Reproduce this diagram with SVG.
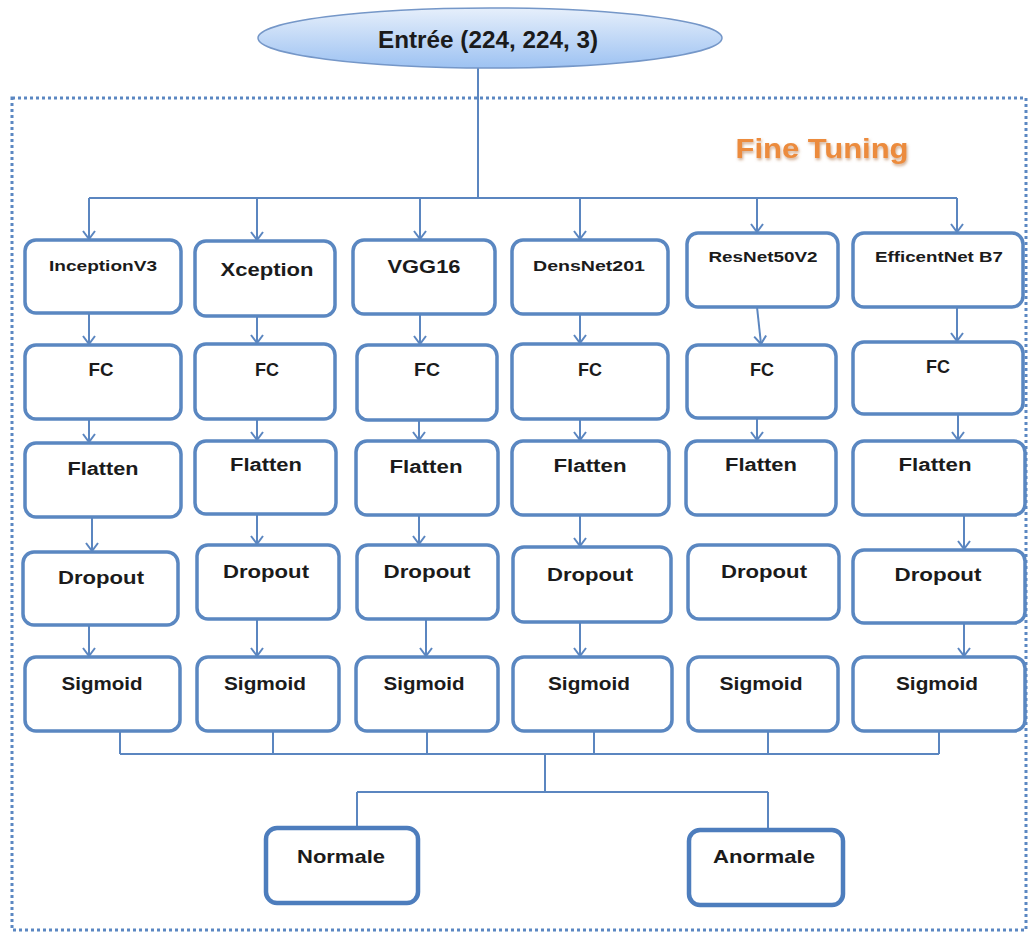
<svg xmlns="http://www.w3.org/2000/svg" width="1029" height="932" viewBox="0 0 1029 932">
<style>
.box{fill:#fff;stroke:#5a87c1;stroke-width:3.5}
.out{fill:#fff;stroke:#4d7dbd;stroke-width:4.5}
.lbl{font-family:"Liberation Sans",Arial,sans-serif;font-weight:bold;fill:#1b1b1b;text-anchor:middle;dominant-baseline:central}
.ln{fill:none;stroke:#5b86c0;stroke-width:2}
.arr{fill:none;stroke:#5b86c0;stroke-width:2;marker-end:url(#ah)}
</style>
<defs>
<linearGradient id="eg" x1="0" y1="0" x2="0" y2="1">
<stop offset="0" stop-color="#e6effb"/>
<stop offset="1" stop-color="#9dc2f2"/>
</linearGradient>
<marker id="ah" markerUnits="userSpaceOnUse" markerWidth="20" markerHeight="20" viewBox="-10 -10 20 20" refX="0" refY="0" orient="auto">
<path d="M-8,-6 L0,0 L-8,6" fill="none" stroke="#5b86c0" stroke-width="2"/>
</marker>
<filter id="glow" x="-10%" y="-30%" width="120%" height="160%">
<feGaussianBlur in="SourceAlpha" stdDeviation="1.5"/>
<feOffset dx="1" dy="2" result="b"/>
<feFlood flood-color="#b07040" flood-opacity="0.6"/>
<feComposite in2="b" operator="in" result="s"/>
<feMerge><feMergeNode in="s"/><feMergeNode in="SourceGraphic"/></feMerge>
</filter>
</defs>
<rect x="12" y="98" width="1014" height="832" fill="none" stroke="#5b87c2" stroke-width="3" stroke-dasharray="3 3"/>
<text x="822" y="148" class="lbl" style="fill:#ec8b3c;font-size:28px" textLength="173" lengthAdjust="spacingAndGlyphs" filter="url(#glow)">Fine Tuning</text>
<g id="connectors">
<path class="ln" d="M478,68 V198 M89,198 H957"/>
<path class="arr" d="M89,198 V239"/>
<path class="arr" d="M257,198 V240"/>
<path class="arr" d="M420,198 V239"/>
<path class="arr" d="M580,198 V239"/>
<path class="arr" d="M757,198 V232"/>
<path class="arr" d="M957,198 V232"/>
<path class="arr" d="M89,313 V344"/>
<path class="arr" d="M257,316 V343"/>
<path class="arr" d="M420,314 V344"/>
<path class="arr" d="M580,314 V343"/>
<path class="arr" d="M757,307 L761,344"/>
<path class="arr" d="M957,307 V341"/>
<path class="arr" d="M89,419 V442"/>
<path class="arr" d="M257,419 V440"/>
<path class="arr" d="M419,420 V440"/>
<path class="arr" d="M580,419 V440"/>
<path class="arr" d="M757,418 V440"/>
<path class="arr" d="M958,414 V440"/>
<path class="arr" d="M92,517 V551"/>
<path class="arr" d="M257,514 V544"/>
<path class="arr" d="M419,515 V544"/>
<path class="arr" d="M580,515 V546"/>
<path class="arr" d="M964,515 V549"/>
<path class="arr" d="M89,625 V656"/>
<path class="arr" d="M257,619 V656"/>
<path class="arr" d="M426,619 V656"/>
<path class="arr" d="M580,622 V656"/>
<path class="arr" d="M964,623 V656"/>
<path class="ln" d="M120,731 V754 M273,731 V754 M427,731 V754 M594,731 V754 M768,731 V754 M939,731 V754 M120,754 H939"/>
<path class="ln" d="M545,754 V792 M357,792 H768 M357,792 V828 M768,792 V830"/>
</g>
<g id="input">
<ellipse cx="490" cy="38" rx="232" ry="30" fill="url(#eg)" stroke="#7597c8" stroke-width="1.5"/>
<text x="488" y="40" class="lbl" style="font-size:23px" textLength="220" lengthAdjust="spacingAndGlyphs">Entrée (224, 224, 3)</text>
</g>
<g id="inceptionv3"><rect class="box" x="25" y="240" width="156" height="73" rx="11"/><text class="lbl" x="103" y="265" style="font-size:15px" textLength="108" lengthAdjust="spacingAndGlyphs">InceptionV3</text></g>
<g id="xception"><rect class="box" x="195" y="241" width="140" height="75" rx="11"/><text class="lbl" x="267" y="269" style="font-size:19px" textLength="93" lengthAdjust="spacingAndGlyphs">Xception</text></g>
<g id="vgg16"><rect class="box" x="353" y="240" width="142" height="74" rx="11"/><text class="lbl" x="424" y="266" style="font-size:19px" textLength="73" lengthAdjust="spacingAndGlyphs">VGG16</text></g>
<g id="densnet201"><rect class="box" x="512" y="240" width="156" height="74" rx="11"/><text class="lbl" x="589" y="265" style="font-size:15px" textLength="112" lengthAdjust="spacingAndGlyphs">DensNet201</text></g>
<g id="resnet50v2"><rect class="box" x="687" y="233" width="151" height="74" rx="11"/><text class="lbl" x="763" y="256" style="font-size:15px" textLength="109" lengthAdjust="spacingAndGlyphs">ResNet50V2</text></g>
<g id="efficentnetb7"><rect class="box" x="853" y="233" width="170" height="74" rx="11"/><text class="lbl" x="939" y="256" style="font-size:15px" textLength="128" lengthAdjust="spacingAndGlyphs">EfficentNet B7</text></g>

<g id="fc1"><rect class="box" x="25" y="345" width="156" height="74" rx="11"/><text class="lbl" x="101" y="370" style="font-size:18px" textLength="25" lengthAdjust="spacingAndGlyphs">FC</text></g>
<g id="fc2"><rect class="box" x="195" y="344" width="140" height="75" rx="11"/><text class="lbl" x="267" y="370" style="font-size:18px" textLength="24" lengthAdjust="spacingAndGlyphs">FC</text></g>
<g id="fc3"><rect class="box" x="357" y="345" width="140" height="75" rx="11"/><text class="lbl" x="427" y="370" style="font-size:18px" textLength="26" lengthAdjust="spacingAndGlyphs">FC</text></g>
<g id="fc4"><rect class="box" x="512" y="344" width="156" height="75" rx="11"/><text class="lbl" x="590" y="370" style="font-size:18px" textLength="24" lengthAdjust="spacingAndGlyphs">FC</text></g>
<g id="fc5"><rect class="box" x="687" y="345" width="149" height="73" rx="11"/><text class="lbl" x="762" y="370" style="font-size:18px" textLength="24" lengthAdjust="spacingAndGlyphs">FC</text></g>
<g id="fc6"><rect class="box" x="853" y="342" width="170" height="72" rx="11"/><text class="lbl" x="938" y="367" style="font-size:18px" textLength="24" lengthAdjust="spacingAndGlyphs">FC</text></g>

<g id="flatten1"><rect class="box" x="25" y="443" width="156" height="74" rx="11"/><text class="lbl" x="103" y="469" style="font-size:18px" textLength="71" lengthAdjust="spacingAndGlyphs">Flatten</text></g>
<g id="flatten2"><rect class="box" x="195" y="441" width="141" height="73" rx="11"/><text class="lbl" x="266" y="465" style="font-size:18px" textLength="72" lengthAdjust="spacingAndGlyphs">Flatten</text></g>
<g id="flatten3"><rect class="box" x="356" y="441" width="142" height="74" rx="11"/><text class="lbl" x="426" y="467" style="font-size:18px" textLength="73" lengthAdjust="spacingAndGlyphs">Flatten</text></g>
<g id="flatten4"><rect class="box" x="512" y="441" width="157" height="74" rx="11"/><text class="lbl" x="590" y="466" style="font-size:18px" textLength="73" lengthAdjust="spacingAndGlyphs">Flatten</text></g>
<g id="flatten5"><rect class="box" x="686" y="441" width="150" height="74" rx="11"/><text class="lbl" x="761" y="465" style="font-size:18px" textLength="72" lengthAdjust="spacingAndGlyphs">Flatten</text></g>
<g id="flatten6"><rect class="box" x="853" y="441" width="172" height="74" rx="11"/><text class="lbl" x="935" y="465" style="font-size:18px" textLength="73" lengthAdjust="spacingAndGlyphs">Flatten</text></g>

<g id="dropout1"><rect class="box" x="23" y="552" width="155" height="73" rx="11"/><text class="lbl" x="101" y="578" style="font-size:18px" textLength="86" lengthAdjust="spacingAndGlyphs">Dropout</text></g>
<g id="dropout2"><rect class="box" x="197" y="545" width="142" height="74" rx="11"/><text class="lbl" x="266" y="572" style="font-size:18px" textLength="86" lengthAdjust="spacingAndGlyphs">Dropout</text></g>
<g id="dropout3"><rect class="box" x="357" y="545" width="141" height="74" rx="11"/><text class="lbl" x="427" y="572" style="font-size:18px" textLength="87" lengthAdjust="spacingAndGlyphs">Dropout</text></g>
<g id="dropout4"><rect class="box" x="513" y="547" width="158" height="75" rx="11"/><text class="lbl" x="590" y="575" style="font-size:18px" textLength="86" lengthAdjust="spacingAndGlyphs">Dropout</text></g>
<g id="dropout5"><rect class="box" x="688" y="545" width="151" height="74" rx="11"/><text class="lbl" x="764" y="572" style="font-size:18px" textLength="86" lengthAdjust="spacingAndGlyphs">Dropout</text></g>
<g id="dropout6"><rect class="box" x="853" y="550" width="172" height="73" rx="11"/><text class="lbl" x="938" y="575" style="font-size:18px" textLength="87" lengthAdjust="spacingAndGlyphs">Dropout</text></g>

<g id="sigmoid1"><rect class="box" x="25" y="657" width="155" height="74" rx="11"/><text class="lbl" x="102" y="684" style="font-size:18px" textLength="81" lengthAdjust="spacingAndGlyphs">Sigmoid</text></g>
<g id="sigmoid2"><rect class="box" x="197" y="657" width="142" height="74" rx="11"/><text class="lbl" x="265" y="684" style="font-size:18px" textLength="82" lengthAdjust="spacingAndGlyphs">Sigmoid</text></g>
<g id="sigmoid3"><rect class="box" x="356" y="657" width="142" height="74" rx="11"/><text class="lbl" x="424" y="684" style="font-size:18px" textLength="81" lengthAdjust="spacingAndGlyphs">Sigmoid</text></g>
<g id="sigmoid4"><rect class="box" x="513" y="657" width="159" height="74" rx="11"/><text class="lbl" x="589" y="684" style="font-size:18px" textLength="82" lengthAdjust="spacingAndGlyphs">Sigmoid</text></g>
<g id="sigmoid5"><rect class="box" x="688" y="657" width="150" height="74" rx="11"/><text class="lbl" x="761" y="684" style="font-size:18px" textLength="83" lengthAdjust="spacingAndGlyphs">Sigmoid</text></g>
<g id="sigmoid6"><rect class="box" x="853" y="657" width="172" height="74" rx="11"/><text class="lbl" x="937" y="684" style="font-size:18px" textLength="82" lengthAdjust="spacingAndGlyphs">Sigmoid</text></g>

<g id="normale"><rect class="out" x="266" y="828" width="152" height="75" rx="11"/><text class="lbl" x="341" y="856" style="font-size:19px" textLength="88" lengthAdjust="spacingAndGlyphs">Normale</text></g>
<g id="anormale"><rect class="out" x="689" y="830" width="154" height="75" rx="11"/><text class="lbl" x="764" y="856" style="font-size:19px" textLength="102" lengthAdjust="spacingAndGlyphs">Anormale</text></g>
</svg>
